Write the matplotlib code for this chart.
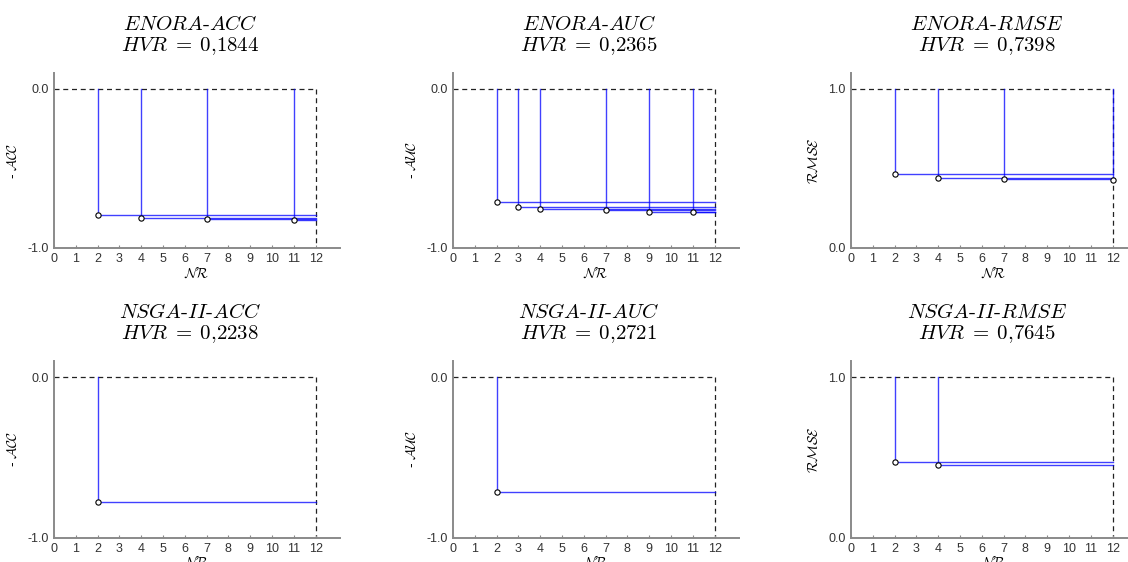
#!/usr/bin/env python3
# -*- coding: utf-8 -*-

"""
Pareto fronts (number of rules vs. objective) for ENORA and NSGA-II,
with the hypervolume boxes drawn from each non-dominated solution.
"""

import matplotlib
matplotlib.use("Agg")
import matplotlib as mpl
import matplotlib.pyplot as plt


FIG_W_PX = 1128
FIG_H_PX = 562
DPI = 100

# Non-dominated solutions: number of rules and objective value.
ENORA_ACC_NR = [2, 4, 7, 11]
ENORA_ACC = [-0.792, -0.813, -0.818, -0.826]
ENORA_AUC_NR = [2, 3, 4, 7, 9, 11]
ENORA_AUC = [-0.711, -0.742, -0.757, -0.763, -0.774, -0.776]
ENORA_RMSE_NR = [2, 4, 7, 12]
ENORA_RMSE = [0.467, 0.438, 0.436, 0.428]

NSGA_ACC_NR = [2]
NSGA_ACC = [-0.776]
NSGA_AUC_NR = [2]
NSGA_AUC = [-0.714]
NSGA_RMSE_NR = [2, 4]
NSGA_RMSE = [0.470, 0.451]

ALGORITHMS = ["ENORA", "NSGA-II"]
OBJECTIVES = ["ACC", "AUC", "RMSE"]
HVR = [
    ["0,1844", "0,2365", "0,7398"],
    ["0,2238", "0,2721", "0,7645"],
]
FRONTS = [
    [(ENORA_ACC_NR, ENORA_ACC), (ENORA_AUC_NR, ENORA_AUC), (ENORA_RMSE_NR, ENORA_RMSE)],
    [(NSGA_ACC_NR, NSGA_ACC), (NSGA_AUC_NR, NSGA_AUC), (NSGA_RMSE_NR, NSGA_RMSE)],
]
Y_LABELS = [r"- $\mathcal{ACC}$", r"- $\mathcal{AUC}$", r"$\mathcal{RMSE}$"]
X_LABEL = r"$\mathcal{NR}$"
NR_MAX = 12
NR_TICKS = list(range(0, 13))

# Reference point (worst value) and bound of each objective.
Y_REF = [0.0, 0.0, 1.0]
Y_LOW = [-1.0, -1.0, 0.0]

LINE_COLOR = "#0000FF"
SPINE_COLOR = "#8a8a8a"

# Panel placement in pixels: left edge, x=0 -> x=12 scale and y of the spines.
COL_LEFT = [54, 453, 851]
PX_PER_NR = 21.8
X_MAX = 13.1
ROW_TOP = [73, 361]
ROW_BOTTOM = [248, 537.7]


def setup_style() -> None:
    mpl.rcParams.update({
        "font.family": "sans-serif",
        "font.sans-serif": ["Liberation Sans", "DejaVu Sans"],
        "mathtext.fontset": "cm",
        "axes.unicode_minus": False,
        "xtick.labelsize": 9,
        "ytick.labelsize": 9,
        "xtick.color": "#333333",
        "ytick.color": "#333333",
    })


def draw_panel(ax, nr, values, y_ref, y_low) -> None:
    span = y_ref - y_low
    # Dashed reference box: top edge at the reference value, right edge at NR_MAX.
    ax.plot([0, NR_MAX], [y_ref, y_ref], ls=(0, (4, 3)), color="#222222", lw=0.9, zorder=1)
    ax.plot([NR_MAX, NR_MAX], [y_ref, y_low], ls=(0, (4, 3)), color="#222222", lw=0.9, zorder=1)

    for x, y in zip(nr, values):
        ax.plot([x, x], [y_ref, y], color=LINE_COLOR, lw=1.0, alpha=0.75, zorder=2)
        ax.plot([x, NR_MAX], [y, y], color=LINE_COLOR, lw=1.0, alpha=0.75, zorder=2)
    ax.plot(nr, values, ls="none", marker="o", ms=3.8, mfc="white", mec="black",
            mew=0.8, zorder=4, clip_on=False)

    ax.set_xlim(0, X_MAX)
    ax.set_ylim(y_low, y_ref + 0.1 * span)
    ax.set_xticks(NR_TICKS)
    ax.set_yticks([y_low, y_ref])
    ax.set_yticklabels([f"{y_low:.1f}", f"{y_ref:.1f}"])
    ax.tick_params(axis="x", direction="in", length=2.5, width=0.8, color=SPINE_COLOR, pad=3.5)
    ax.tick_params(axis="y", length=0, pad=4)
    for side in ("top", "right"):
        ax.spines[side].set_visible(False)
    for side in ("left", "bottom"):
        ax.spines[side].set_color(SPINE_COLOR)
        ax.spines[side].set_linewidth(1.4)


def main() -> None:
    setup_style()
    fig = plt.figure(figsize=(FIG_W_PX / DPI, FIG_H_PX / DPI), dpi=DPI)

    for row, alg in enumerate(ALGORITHMS):
        for col, obj in enumerate(OBJECTIVES):
            left = COL_LEFT[col] / FIG_W_PX
            width = PX_PER_NR * X_MAX / FIG_W_PX
            bottom = 1 - ROW_BOTTOM[row] / FIG_H_PX
            height = (ROW_BOTTOM[row] - ROW_TOP[row]) / FIG_H_PX
            ax = fig.add_axes([left, bottom, width, height])
            nr, values = FRONTS[row][col]
            draw_panel(ax, nr, values, Y_REF[col], Y_LOW[col])

            alg_tex = alg.replace("-", r"\text{-}")
            name = f"${alg_tex}\\text{{-}}{obj}$"
            hvr = f"$HVR\\;=\\;{HVR[row][col].replace(',', '{,}')}$"
            ax.annotate(name, xy=(0.476, 1.0), xycoords="axes fraction", xytext=(0, 48),
                        textcoords="offset pixels", ha="center", va="center", fontsize=15)
            ax.annotate(hvr, xy=(0.476, 1.0), xycoords="axes fraction", xytext=(0, 27),
                        textcoords="offset pixels", ha="center", va="center", fontsize=15)
            ax.set_ylabel(Y_LABELS[col], fontsize=10, labelpad=5)
            ax.set_xlabel(X_LABEL, fontsize=10, labelpad=0)

    fig.savefig("out.png", dpi=DPI)
    plt.close(fig)


if __name__ == "__main__":
    main()
